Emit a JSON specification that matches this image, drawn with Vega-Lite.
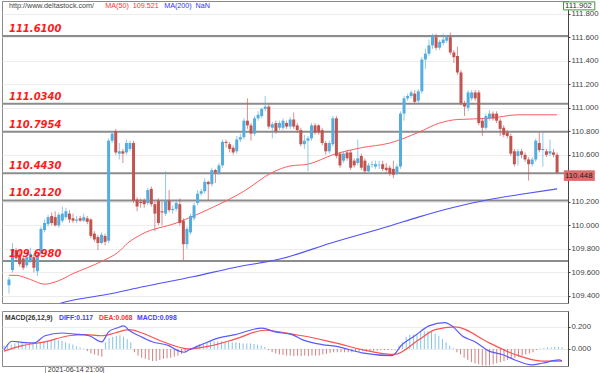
{
"$schema": "https://vega.github.io/schema/vega-lite/v6.json",
"padding": 0,
"background": "white",
"config": {
  "view": {"stroke": "#8a8a8a"},
  "concat": {"spacing": 6},
  "axis": {"labelFont": "Liberation Sans", "labelFontSize": 7.8, "labelColor": "#444", "tickColor": "#444", "tickSize": 2, "labelPadding": 1, "labelOverlap": false, "labelBound": false, "domainColor": "#444", "gridColor": "#ececec"}
},
"datasets": {
"candles": [
{"i":0,"o":109.49,"c":109.54,"h":109.56,"l":109.42,"m":0.03},
{"i":1,"o":109.62,"c":109.79,"h":109.85,"l":109.60,"m":0.04},
{"i":2,"o":109.79,"c":109.72,"h":109.81,"l":109.70,"m":0.04},
{"i":3,"o":109.75,"c":109.67,"h":109.78,"l":109.65,"m":0.05},
{"i":4,"o":109.72,"c":109.64,"h":109.75,"l":109.62,"m":0.055},
{"i":5,"o":109.66,"c":109.73,"h":109.80,"l":109.64,"m":0.055},
{"i":6,"o":109.70,"c":109.76,"h":109.81,"l":109.68,"m":0.05},
{"i":7,"o":109.73,"c":109.64,"h":109.76,"l":109.60,"m":0.055},
{"i":8,"o":109.61,"c":109.75,"h":109.78,"l":109.57,"m":0.06},
{"i":9,"o":109.76,"c":109.97,"h":109.99,"l":109.74,"m":0.06},
{"i":10,"o":109.96,"c":110.02,"h":110.05,"l":109.94,"m":0.065},
{"i":11,"o":110.01,"c":110.07,"h":110.09,"l":109.99,"m":0.07},
{"i":12,"o":110.08,"c":110.02,"h":110.11,"l":110.00,"m":0.07},
{"i":13,"o":110.07,"c":110.00,"h":110.12,"l":109.99,"m":0.08},
{"i":14,"o":110.00,"c":110.09,"h":110.11,"l":109.98,"m":0.085},
{"i":15,"o":110.04,"c":110.10,"h":110.16,"l":110.02,"m":0.08},
{"i":16,"o":110.07,"c":110.12,"h":110.15,"l":110.05,"m":0.075},
{"i":17,"o":110.10,"c":110.05,"h":110.13,"l":110.02,"m":0.06},
{"i":18,"o":110.06,"c":110.04,"h":110.10,"l":110.02,"m":0.05},
{"i":19,"o":110.04,"c":110.05,"h":110.08,"l":110.02,"m":0.04},
{"i":20,"o":110.06,"c":110.04,"h":110.08,"l":110.03,"m":0.025},
{"i":21,"o":110.04,"c":110.07,"h":110.10,"l":110.03,"m":0.015},
{"i":22,"o":110.06,"c":110.03,"h":110.08,"l":110.01,"m":0.005},
{"i":23,"o":110.05,"c":109.91,"h":110.06,"l":109.89,"m":-0.02},
{"i":24,"o":109.93,"c":109.88,"h":109.95,"l":109.86,"m":-0.04},
{"i":25,"o":109.90,"c":109.85,"h":109.92,"l":109.79,"m":-0.05},
{"i":26,"o":109.85,"c":109.92,"h":109.94,"l":109.84,"m":-0.06},
{"i":27,"o":109.91,"c":109.86,"h":109.93,"l":109.83,"m":-0.07},
{"i":28,"o":109.87,"c":110.72,"h":110.74,"l":109.85,"m":0.06},
{"i":29,"o":110.72,"c":110.78,"h":110.80,"l":110.70,"m":0.10},
{"i":30,"o":110.80,"c":110.62,"h":110.82,"l":110.60,"m":0.11},
{"i":31,"o":110.61,"c":110.63,"h":110.70,"l":110.56,"m":0.12},
{"i":32,"o":110.63,"c":110.61,"h":110.65,"l":110.53,"m":0.125},
{"i":33,"o":110.62,"c":110.70,"h":110.73,"l":110.60,"m":0.11},
{"i":34,"o":110.65,"c":110.70,"h":110.72,"l":110.63,"m":0.09},
{"i":35,"o":110.70,"c":110.21,"h":110.72,"l":110.19,"m":0.06},
{"i":36,"o":110.22,"c":110.16,"h":110.24,"l":110.12,"m":-0.03},
{"i":37,"o":110.20,"c":110.19,"h":110.23,"l":110.15,"m":-0.06},
{"i":38,"o":110.21,"c":110.18,"h":110.23,"l":110.15,"m":-0.08},
{"i":39,"o":110.19,"c":110.30,"h":110.32,"l":110.17,"m":-0.09},
{"i":40,"o":110.31,"c":110.18,"h":110.33,"l":110.16,"m":-0.10},
{"i":41,"o":110.18,"c":110.10,"h":110.20,"l":109.95,"m":-0.11},
{"i":42,"o":110.21,"c":110.02,"h":110.23,"l":110.00,"m":-0.11},
{"i":43,"o":110.12,"c":110.11,"h":110.20,"l":110.00,"m":-0.10},
{"i":44,"o":110.10,"c":110.21,"h":110.46,"l":110.08,"m":-0.09},
{"i":45,"o":110.21,"c":110.13,"h":110.30,"l":110.11,"m":-0.085},
{"i":46,"o":110.13,"c":110.14,"h":110.17,"l":110.10,"m":-0.08},
{"i":47,"o":110.14,"c":110.19,"h":110.22,"l":110.12,"m":-0.07},
{"i":48,"o":110.18,"c":110.02,"h":110.23,"l":110.00,"m":-0.06},
{"i":49,"o":110.04,"c":109.84,"h":110.06,"l":109.70,"m":-0.045},
{"i":50,"o":109.84,"c":109.97,"h":109.99,"l":109.80,"m":-0.03},
{"i":51,"o":109.94,"c":110.08,"h":110.10,"l":109.92,"m":-0.01},
{"i":52,"o":110.06,"c":110.17,"h":110.19,"l":110.04,"m":0.01},
{"i":53,"o":110.19,"c":110.27,"h":110.30,"l":110.17,"m":0.03},
{"i":54,"o":110.27,"c":110.29,"h":110.31,"l":110.25,"m":0.045},
{"i":55,"o":110.29,"c":110.37,"h":110.40,"l":110.27,"m":0.055},
{"i":56,"o":110.37,"c":110.35,"h":110.38,"l":110.21,"m":0.06},
{"i":57,"o":110.35,"c":110.47,"h":110.49,"l":110.33,"m":0.065},
{"i":58,"o":110.47,"c":110.45,"h":110.48,"l":110.36,"m":0.07},
{"i":59,"o":110.45,"c":110.51,"h":110.53,"l":110.43,"m":0.07},
{"i":60,"o":110.51,"c":110.71,"h":110.73,"l":110.49,"m":0.07},
{"i":61,"o":110.71,"c":110.70,"h":110.73,"l":110.66,"m":0.065},
{"i":62,"o":110.69,"c":110.65,"h":110.71,"l":110.62,"m":0.065},
{"i":63,"o":110.66,"c":110.62,"h":110.68,"l":110.60,"m":0.06},
{"i":64,"o":110.63,"c":110.73,"h":110.76,"l":110.61,"m":0.06},
{"i":65,"o":110.73,"c":110.75,"h":110.78,"l":110.71,"m":0.055},
{"i":66,"o":110.75,"c":110.89,"h":110.91,"l":110.73,"m":0.05},
{"i":67,"o":110.89,"c":110.85,"h":111.08,"l":110.82,"m":0.05},
{"i":68,"o":110.85,"c":110.78,"h":110.87,"l":110.72,"m":0.05},
{"i":69,"o":110.78,"c":110.91,"h":110.93,"l":110.76,"m":0.045},
{"i":70,"o":110.91,"c":110.94,"h":110.97,"l":110.89,"m":0.04},
{"i":71,"o":110.93,"c":110.99,"h":111.00,"l":110.91,"m":0.03},
{"i":72,"o":110.99,"c":111.01,"h":111.10,"l":110.97,"m":0.02},
{"i":73,"o":111.01,"c":110.84,"h":111.03,"l":110.82,"m":-0.01},
{"i":74,"o":110.83,"c":110.86,"h":110.88,"l":110.74,"m":-0.03},
{"i":75,"o":110.87,"c":110.80,"h":110.89,"l":110.78,"m":-0.04},
{"i":76,"o":110.83,"c":110.87,"h":110.89,"l":110.81,"m":-0.05},
{"i":77,"o":110.83,"c":110.89,"h":110.91,"l":110.81,"m":-0.055},
{"i":78,"o":110.87,"c":110.84,"h":110.89,"l":110.82,"m":-0.06},
{"i":79,"o":110.84,"c":110.90,"h":110.92,"l":110.82,"m":-0.06},
{"i":80,"o":110.90,"c":110.84,"h":110.96,"l":110.82,"m":-0.065},
{"i":81,"o":110.85,"c":110.81,"h":110.87,"l":110.79,"m":-0.06},
{"i":82,"o":110.81,"c":110.69,"h":110.83,"l":110.67,"m":-0.065},
{"i":83,"o":110.69,"c":110.72,"h":110.77,"l":110.65,"m":-0.06},
{"i":84,"o":110.72,"c":110.74,"h":110.76,"l":110.46,"m":-0.065},
{"i":85,"o":110.74,"c":110.85,"h":110.87,"l":110.72,"m":-0.06},
{"i":86,"o":110.85,"c":110.79,"h":110.87,"l":110.77,"m":-0.06},
{"i":87,"o":110.85,"c":110.79,"h":110.86,"l":110.77,"m":-0.06},
{"i":88,"o":110.81,"c":110.70,"h":110.83,"l":110.68,"m":-0.05},
{"i":89,"o":110.70,"c":110.63,"h":110.72,"l":110.60,"m":-0.045},
{"i":90,"o":110.63,"c":110.70,"h":110.72,"l":110.61,"m":-0.035},
{"i":91,"o":110.69,"c":110.91,"h":110.93,"l":110.67,"m":-0.03},
{"i":92,"o":110.91,"c":110.59,"h":110.93,"l":110.57,"m":-0.03},
{"i":93,"o":110.61,"c":110.51,"h":110.62,"l":110.49,"m":-0.03},
{"i":94,"o":110.55,"c":110.61,"h":110.63,"l":110.53,"m":-0.03},
{"i":95,"o":110.62,"c":110.57,"h":110.64,"l":110.55,"m":-0.03},
{"i":96,"o":110.62,"c":110.49,"h":110.64,"l":110.47,"m":-0.03},
{"i":97,"o":110.55,"c":110.51,"h":110.57,"l":110.49,"m":-0.025},
{"i":98,"o":110.53,"c":110.57,"h":110.73,"l":110.51,"m":-0.025},
{"i":99,"o":110.59,"c":110.49,"h":110.61,"l":110.47,"m":-0.02},
{"i":100,"o":110.55,"c":110.46,"h":110.57,"l":110.44,"m":-0.02},
{"i":101,"o":110.46,"c":110.51,"h":110.53,"l":110.44,"m":-0.02},
{"i":102,"o":110.515,"c":110.52,"h":110.55,"l":110.49,"m":-0.015},
{"i":103,"o":110.50,"c":110.52,"h":110.55,"l":110.48,"m":-0.015},
{"i":104,"o":110.51,"c":110.515,"h":110.55,"l":110.48,"m":-0.01},
{"i":105,"o":110.52,"c":110.48,"h":110.55,"l":110.46,"m":-0.01},
{"i":106,"o":110.49,"c":110.47,"h":110.53,"l":110.45,"m":-0.01},
{"i":107,"o":110.49,"c":110.44,"h":110.51,"l":110.42,"m":-0.005},
{"i":108,"o":110.48,"c":110.43,"h":110.55,"l":110.40,"m":-0.005},
{"i":109,"o":110.44,"c":110.50,"h":110.52,"l":110.43,"m":0.03},
{"i":110,"o":110.50,"c":110.95,"h":110.97,"l":110.48,"m":0.06},
{"i":111,"o":110.95,"c":111.08,"h":111.10,"l":110.89,"m":0.11},
{"i":112,"o":111.08,"c":111.10,"h":111.12,"l":111.06,"m":0.13},
{"i":113,"o":111.10,"c":111.13,"h":111.15,"l":111.08,"m":0.13},
{"i":114,"o":111.12,"c":111.05,"h":111.15,"l":111.03,"m":0.14},
{"i":115,"o":111.06,"c":111.14,"h":111.16,"l":111.04,"m":0.16},
{"i":116,"o":111.14,"c":111.41,"h":111.43,"l":111.12,"m":0.16},
{"i":117,"o":111.41,"c":111.46,"h":111.50,"l":111.33,"m":0.16},
{"i":118,"o":111.46,"c":111.53,"h":111.58,"l":111.44,"m":0.155},
{"i":119,"o":111.53,"c":111.61,"h":111.63,"l":111.50,"m":0.14},
{"i":120,"o":111.60,"c":111.51,"h":111.63,"l":111.49,"m":0.12},
{"i":121,"o":111.51,"c":111.56,"h":111.58,"l":111.49,"m":0.09},
{"i":122,"o":111.55,"c":111.58,"h":111.63,"l":111.53,"m":0.06},
{"i":123,"o":111.57,"c":111.60,"h":111.62,"l":111.55,"m":0.03},
{"i":124,"o":111.60,"c":111.47,"h":111.64,"l":111.45,"m":0.01},
{"i":125,"o":111.47,"c":111.43,"h":111.49,"l":111.38,"m":-0.03},
{"i":126,"o":111.44,"c":111.30,"h":111.52,"l":111.28,"m":-0.05},
{"i":127,"o":111.30,"c":111.04,"h":111.32,"l":111.02,"m":-0.08},
{"i":128,"o":111.04,"c":111.01,"h":111.06,"l":110.93,"m":-0.10},
{"i":129,"o":111.00,"c":111.13,"h":111.15,"l":110.97,"m":-0.12},
{"i":130,"o":111.08,"c":111.13,"h":111.15,"l":111.06,"m":-0.13},
{"i":131,"o":111.13,"c":111.08,"h":111.15,"l":111.06,"m":-0.14},
{"i":132,"o":111.13,"c":110.87,"h":111.15,"l":110.85,"m":-0.15},
{"i":133,"o":110.89,"c":110.83,"h":110.91,"l":110.76,"m":-0.15},
{"i":134,"o":110.83,"c":110.93,"h":110.95,"l":110.81,"m":-0.15},
{"i":135,"o":110.91,"c":110.95,"h":110.98,"l":110.89,"m":-0.14},
{"i":136,"o":110.95,"c":110.91,"h":110.97,"l":110.89,"m":-0.13},
{"i":137,"o":110.95,"c":110.89,"h":110.97,"l":110.87,"m":-0.12},
{"i":138,"o":110.89,"c":110.82,"h":110.91,"l":110.76,"m":-0.11},
{"i":139,"o":110.83,"c":110.77,"h":110.85,"l":110.75,"m":-0.10},
{"i":140,"o":110.79,"c":110.76,"h":110.81,"l":110.74,"m":-0.09},
{"i":141,"o":110.76,"c":110.61,"h":110.78,"l":110.59,"m":-0.08},
{"i":142,"o":110.63,"c":110.52,"h":110.65,"l":110.50,"m":-0.07},
{"i":143,"o":110.59,"c":110.63,"h":110.65,"l":110.51,"m":-0.06},
{"i":144,"o":110.63,"c":110.60,"h":110.65,"l":110.57,"m":-0.05},
{"i":145,"o":110.60,"c":110.56,"h":110.62,"l":110.54,"m":-0.04},
{"i":146,"o":110.56,"c":110.52,"h":110.58,"l":110.38,"m":-0.03},
{"i":147,"o":110.52,"c":110.56,"h":110.58,"l":110.50,"m":-0.01},
{"i":148,"o":110.56,"c":110.72,"h":110.74,"l":110.54,"m":0.005},
{"i":149,"o":110.70,"c":110.64,"h":110.79,"l":110.62,"m":0.01},
{"i":150,"o":110.64,"c":110.65,"h":110.79,"l":110.50,"m":0.015},
{"i":151,"o":110.63,"c":110.60,"h":110.65,"l":110.58,"m":0.015},
{"i":152,"o":110.61,"c":110.63,"h":110.73,"l":110.59,"m":0.02},
{"i":153,"o":110.62,"c":110.60,"h":110.65,"l":110.58,"m":0.02},
{"i":154,"o":110.60,"c":110.448,"h":110.62,"l":110.44,"m":0.015}
],
"levels": [
{"v":111.61,"t":"111.6100"},{"v":111.034,"t":"111.0340"},{"v":110.7954,"t":"110.7954"},
{"v":110.443,"t":"110.4430"},{"v":110.212,"t":"110.2120"},{"v":109.698,"t":"109.6980"}
],
"ma50": [
{"i":0,"v":109.575},{"i":2,"v":109.575},{"i":6,"v":109.54},{"i":10,"v":109.50},{"i":14,"v":109.53},{"i":18,"v":109.59},{"i":22,"v":109.64},{"i":26.5,"v":109.70},{"i":30.6,"v":109.77},{"i":33.4,"v":109.85},{"i":37.3,"v":109.925},{"i":47,"v":110.02},{"i":57,"v":110.15},{"i":66,"v":110.29},{"i":74,"v":110.45},{"i":79,"v":110.505},{"i":84,"v":110.52},{"i":91,"v":110.60},{"i":99,"v":110.66},{"i":107,"v":110.70},{"i":115,"v":110.79},{"i":121,"v":110.87},{"i":126,"v":110.90},{"i":135,"v":110.91},{"i":143,"v":110.94},{"i":154,"v":110.94}
],
"ma200": [
{"i":10.5,"v":109.30},{"i":16,"v":109.35},{"i":27,"v":109.41},{"i":38,"v":109.48},{"i":52,"v":109.565},{"i":63,"v":109.64},{"i":77,"v":109.72},{"i":90.5,"v":109.85},{"i":107,"v":109.995},{"i":115,"v":110.07},{"i":124.5,"v":110.15},{"i":135,"v":110.22},{"i":143,"v":110.26},{"i":154,"v":110.31}
],
"diff": [
{"i":0,"v":-0.01},{"i":2.2,"v":0.07},{"i":5,"v":0.06},{"i":8.3,"v":0.055},{"i":11.3,"v":0.12},{"i":16,"v":0.145},{"i":19.6,"v":0.135},{"i":23.5,"v":0.12},{"i":27,"v":0.065},{"i":29,"v":0.16},{"i":31.2,"v":0.19},{"i":33.1,"v":0.21},{"i":34.5,"v":0.17},{"i":37.3,"v":0.12},{"i":40.9,"v":0.065},{"i":45.5,"v":0.03},{"i":48.3,"v":-0.02},{"i":49.7,"v":-0.03},{"i":51,"v":-0.01},{"i":54.6,"v":0.04},{"i":59.3,"v":0.10},{"i":63.8,"v":0.13},{"i":71.2,"v":0.19},{"i":74.8,"v":0.155},{"i":79.5,"v":0.13},{"i":82.3,"v":0.085},{"i":87.8,"v":0.04},{"i":91.4,"v":0.025},{"i":98.8,"v":-0.035},{"i":107.1,"v":-0.06},{"i":109.9,"v":0.04},{"i":113.4,"v":0.12},{"i":117.3,"v":0.21},{"i":121.7,"v":0.24},{"i":123.6,"v":0.21},{"i":126.4,"v":0.12},{"i":130,"v":0.065},{"i":133.9,"v":-0.02},{"i":137.5,"v":-0.05},{"i":141,"v":-0.10},{"i":145.7,"v":-0.145},{"i":148.5,"v":-0.13},{"i":153.2,"v":-0.10},{"i":154,"v":-0.11}
],
"dea": [
{"i":0,"v":-0.02},{"i":5,"v":0.03},{"i":11.3,"v":0.065},{"i":17.9,"v":0.12},{"i":22.4,"v":0.13},{"i":27,"v":0.12},{"i":30.6,"v":0.145},{"i":34.5,"v":0.175},{"i":38.1,"v":0.145},{"i":43.6,"v":0.07},{"i":51,"v":0.0},{"i":56.6,"v":0.025},{"i":63.8,"v":0.09},{"i":72,"v":0.17},{"i":80.3,"v":0.13},{"i":82.3,"v":0.12},{"i":91.4,"v":0.055},{"i":100.8,"v":-0.02},{"i":107.7,"v":-0.05},{"i":114.6,"v":0.085},{"i":119,"v":0.175},{"i":124.5,"v":0.2},{"i":133.9,"v":0.055},{"i":141,"v":-0.05},{"i":148.5,"v":-0.11},{"i":154,"v":-0.11}
]
},
"vconcat": [
{
"width": 566, "height": 302,
"layer": [
{"data": {"name": "levels"}, "mark": {"type": "rule", "color": "#8c8c8c", "strokeWidth": 2},
 "encoding": {"y": {"field": "v", "type": "quantitative", "title": null,
   "scale": {"domain": [109.34, 111.9075], "nice": false, "zero": false},
   "axis": {"orient": "right", "values": [109.4,109.6,109.8,110.0,110.2,110.6,110.8,111.0,111.2,111.4,111.6,111.8], "tickCount": 100, "format": ".3f", "grid": true, "title": null, "labelOverlap": false}}}},
{"data": {"name": "ma200"}, "mark": {"type": "line", "color": "#5050ff", "strokeWidth": 1.1, "interpolate": "monotone", "clip": true},
 "encoding": {"x": {"field": "i", "type": "quantitative", "scale": {"domain": [-0.55, 155.66], "nice": false, "zero": false}, "axis": null},
   "y": {"field": "v", "type": "quantitative", "title": null, "axis": {"orient": "right", "values": [109.4,109.6,109.8,110.0,110.2,110.6,110.8,111.0,111.2,111.4,111.6,111.8], "tickCount": 100, "format": ".3f", "grid": true, "title": null, "labelOverlap": false}}}},
{"data": {"name": "ma50"}, "mark": {"type": "line", "color": "#ff5c5c", "strokeWidth": 1, "interpolate": "monotone"},
 "encoding": {"x": {"field": "i", "type": "quantitative", "axis": null},
   "y": {"field": "v", "type": "quantitative", "title": null, "axis": {"orient": "right", "values": [109.4,109.6,109.8,110.0,110.2,110.6,110.8,111.0,111.2,111.4,111.6,111.8], "tickCount": 100, "format": ".3f", "grid": true, "title": null, "labelOverlap": false}}}},
{"data": {"name": "candles"}, "mark": {"type": "rule", "strokeWidth": 1, "opacity": 0.65},
 "encoding": {"x": {"field": "i", "type": "quantitative", "axis": null},
   "y": {"field": "l", "type": "quantitative", "title": null, "axis": {"orient": "right", "values": [109.4,109.6,109.8,110.0,110.2,110.6,110.8,111.0,111.2,111.4,111.6,111.8], "tickCount": 100, "format": ".3f", "grid": true, "title": null, "labelOverlap": false}}, "y2": {"field": "h"},
   "color": {"condition": {"test": "datum.c >= datum.o", "value": "#55acdf"}, "value": "#c25450"}}},
{"data": {"name": "candles"}, "mark": {"type": "bar", "width": 3, "orient": "vertical"},
 "encoding": {"x": {"field": "i", "type": "quantitative", "axis": null},
   "y": {"field": "o", "type": "quantitative", "title": null, "axis": {"orient": "right", "values": [109.4,109.6,109.8,110.0,110.2,110.6,110.8,111.0,111.2,111.4,111.6,111.8], "tickCount": 100, "format": ".3f", "grid": true, "title": null, "labelOverlap": false}}, "y2": {"field": "c"},
   "color": {"condition": {"test": "datum.c >= datum.o", "value": "#55acdf"}, "value": "#c25450"}}},
{"data": {"name": "levels"}, "mark": {"type": "text", "align": "left", "baseline": "alphabetic", "dy": -4, "font": "DejaVu Sans", "fontSize": 10, "fontWeight": "bold", "fontStyle": "italic", "color": "#ff1a1a"},
 "encoding": {"x": {"datum": 0, "type": "quantitative"}, "y": {"field": "v", "type": "quantitative", "title": null, "axis": {"orient": "right", "values": [109.4,109.6,109.8,110.0,110.2,110.6,110.8,111.0,111.2,111.4,111.6,111.8], "tickCount": 100, "format": ".3f", "grid": true, "title": null, "labelOverlap": false}}, "text": {"field": "t"}}},
{"data": {"values": [{}]}, "mark": {"type": "text", "text": "http://www.deltastock.com/", "align": "left", "baseline": "middle", "font": "Liberation Sans", "fontSize": 7.2, "color": "#444"},
 "encoding": {"x": {"datum": 0, "type": "quantitative"}, "y": {"datum": 111.865, "type": "quantitative"}}},
{"data": {"values": [{}]}, "mark": {"type": "text", "text": "MA(50)", "align": "left", "baseline": "middle", "font": "Liberation Sans", "fontSize": 7.2, "color": "#ff3030"},
 "encoding": {"x": {"datum": 27.05, "type": "quantitative"}, "y": {"datum": 111.865, "type": "quantitative"}}},
{"data": {"values": [{}]}, "mark": {"type": "text", "text": "109.521", "align": "left", "baseline": "middle", "font": "Liberation Sans", "fontSize": 7.2, "color": "#ff3030"},
 "encoding": {"x": {"datum": 34.78, "type": "quantitative"}, "y": {"datum": 111.865, "type": "quantitative"}}},
{"data": {"values": [{}]}, "mark": {"type": "text", "text": "MA(200)", "align": "left", "baseline": "middle", "font": "Liberation Sans", "fontSize": 7.2, "color": "#3030ff"},
 "encoding": {"x": {"datum": 43.61, "type": "quantitative"}, "y": {"datum": 111.865, "type": "quantitative"}}},
{"data": {"values": [{}]}, "mark": {"type": "text", "text": "NaN", "align": "left", "baseline": "middle", "font": "Liberation Sans", "fontSize": 7.2, "color": "#3030ff"},
 "encoding": {"x": {"datum": 52.44, "type": "quantitative"}, "y": {"datum": 111.865, "type": "quantitative"}}},
{"data": {"values": [{}]}, "mark": {"type": "rect", "fill": "#dd6b6b", "clip": false},
 "encoding": {"x": {"datum": 155.9, "type": "quantitative"}, "x2": {"datum": 164.6}, "y": {"datum": 110.468, "type": "quantitative"}, "y2": {"datum": 110.378}}},
{"data": {"values": [{}]}, "mark": {"type": "text", "text": "110.448", "align": "left", "baseline": "middle", "font": "Liberation Sans", "fontSize": 7.8, "color": "#222"},
 "encoding": {"x": {"datum": 156.2, "type": "quantitative"}, "y": {"datum": 110.423, "type": "quantitative"}}},
{"data": {"values": [{}]}, "mark": {"type": "rect", "fill": "white", "stroke": "#3c9a3c", "strokeWidth": 1},
 "encoding": {"x": {"datum": 155.8, "type": "quantitative"}, "x2": {"datum": 164.6}, "y": {"datum": 111.9, "type": "quantitative"}, "y2": {"datum": 111.832}}},
{"data": {"values": [{}]}, "mark": {"type": "text", "text": "111.902", "align": "left", "baseline": "middle", "font": "Liberation Sans", "fontSize": 7.8, "color": "#333"},
 "encoding": {"x": {"datum": 156.2, "type": "quantitative"}, "y": {"datum": 111.866, "type": "quantitative"}}}
]
},
{
"width": 566, "height": 55,
"layer": [
{"data": {"name": "candles"}, "mark": {"type": "rule", "strokeWidth": 1, "opacity": 0.85},
 "encoding": {"x": {"field": "i", "type": "quantitative", "scale": {"domain": [-0.55, 155.66], "nice": false, "zero": false}, "axis": null},
   "y": {"field": "m", "type": "quantitative", "title": null,
     "scale": {"domain": [-0.155, 0.345], "nice": false, "zero": false},
     "axis": {"orient": "right", "values": [0, 0.2], "tickCount": 100, "format": ".3f", "grid": true, "title": null, "labelOverlap": false}},
   "y2": {"datum": 0},
   "color": {"condition": {"test": "datum.m >= 0", "value": "#6bb7e0"}, "value": "#c86a6a"}}},
{"data": {"name": "dea"}, "mark": {"type": "line", "color": "#ff5050", "strokeWidth": 1.2, "interpolate": "monotone"},
 "encoding": {"x": {"field": "i", "type": "quantitative", "axis": null}, "y": {"field": "v", "type": "quantitative", "title": null, "axis": {"orient": "right", "values": [0, 0.2], "tickCount": 100, "format": ".3f", "grid": true, "title": null, "labelOverlap": false}}}},
{"data": {"name": "diff"}, "mark": {"type": "line", "color": "#5a5aff", "strokeWidth": 1.2, "interpolate": "monotone"},
 "encoding": {"x": {"field": "i", "type": "quantitative", "axis": null}, "y": {"field": "v", "type": "quantitative", "title": null, "axis": {"orient": "right", "values": [0, 0.2], "tickCount": 100, "format": ".3f", "grid": true, "title": null, "labelOverlap": false}}}},
{"data": {"values": [{}]}, "mark": {"type": "text", "text": "MACD(26,12,9)", "align": "left", "baseline": "middle", "font": "Liberation Sans", "fontSize": 6.8, "fontWeight": "bold", "color": "#333"},
 "encoding": {"x": {"datum": 0.28, "type": "quantitative"}, "y": {"datum": 0.282, "type": "quantitative"}}},
{"data": {"values": [{}]}, "mark": {"type": "text", "text": "DIFF:0.117", "align": "left", "baseline": "middle", "font": "Liberation Sans", "fontSize": 6.8, "fontWeight": "bold", "color": "#4040ff"},
 "encoding": {"x": {"datum": 15.18, "type": "quantitative"}, "y": {"datum": 0.282, "type": "quantitative"}}},
{"data": {"values": [{}]}, "mark": {"type": "text", "text": "DEA:0.068", "align": "left", "baseline": "middle", "font": "Liberation Sans", "fontSize": 6.8, "fontWeight": "bold", "color": "#ff3030"},
 "encoding": {"x": {"datum": 26.22, "type": "quantitative"}, "y": {"datum": 0.282, "type": "quantitative"}}},
{"data": {"values": [{}]}, "mark": {"type": "text", "text": "MACD:0.098", "align": "left", "baseline": "middle", "font": "Liberation Sans", "fontSize": 6.8, "fontWeight": "bold", "color": "#4040ff"},
 "encoding": {"x": {"datum": 36.71, "type": "quantitative"}, "y": {"datum": 0.282, "type": "quantitative"}}},
{"data": {"values": [{}]}, "mark": {"type": "rect", "fill": "white", "stroke": "#999", "strokeWidth": 1, "clip": false},
 "encoding": {"x": {"datum": 11.45, "type": "quantitative"}, "x2": {"datum": 27.5}, "y": {"datum": -0.158, "type": "quantitative"}, "y2": {"datum": -0.232}}},
{"data": {"values": [{}]}, "mark": {"type": "text", "text": "2021-06-14 21:00", "align": "left", "baseline": "middle", "font": "Liberation Sans", "fontSize": 7, "color": "#333"},
 "encoding": {"x": {"datum": 12.1, "type": "quantitative"}, "y": {"datum": -0.195, "type": "quantitative"}}}
]
}
]
}
